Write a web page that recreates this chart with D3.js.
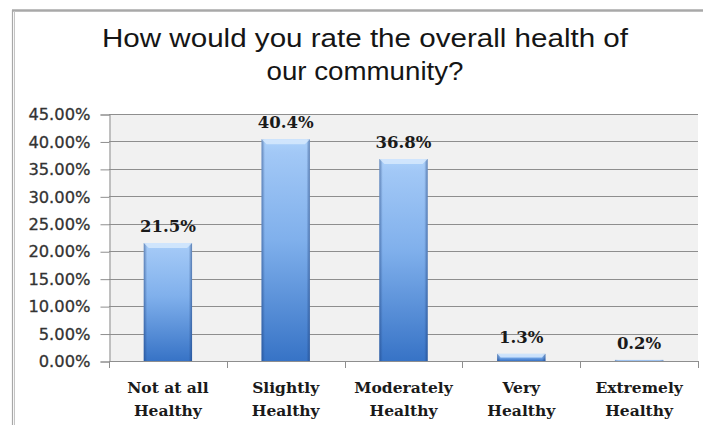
<!DOCTYPE html>
<html>
<head>
<meta charset="utf-8">
<script src="https://cdn.jsdelivr.net/npm/d3@7"></script>
<style>
  body { margin: 0; background: #ffffff; }
  svg { display: block; }
</style>
</head>
<body>
<svg id="chart"></svg>
<script>
// chart data
const categories = ["Not at all Healthy", "Slightly Healthy", "Moderately Healthy", "Very Healthy", "Extremely Healthy"];
const category_lines = [["Not at all", "Healthy"], ["Slightly", "Healthy"], ["Moderately", "Healthy"], ["Very", "Healthy"], ["Extremely", "Healthy"]];
const values = [21.5, 40.4, 36.8, 1.3, 0.2];
const y_ticks = [0, 5, 10, 15, 20, 25, 30, 35, 40, 45];
const title_lines = ["How would you rate the overall health of", "our community?"];

const WIDTH = 703, HEIGHT = 425;
const PLOT = {left: 109, right: 698, top: 114, bottom: 361};

const svg = d3.select("#chart").attr("width", WIDTH).attr("height", HEIGHT);
const defs = svg.append("defs");

const vgrad = defs.append("linearGradient")
  .attr("id", "bar-fill").attr("x1", 0).attr("y1", 0).attr("x2", 0).attr("y2", 1);
[["0%", "#add2fb"], ["6%", "#a2c8f6"], ["45%", "#80b0ec"], ["100%", "#3773c6"]].forEach(s => {
  vgrad.append("stop").attr("offset", s[0]).attr("stop-color", s[1]);
});
const hgrad = defs.append("linearGradient")
  .attr("id", "bar-edge").attr("x1", 0).attr("y1", 0).attr("x2", 1).attr("y2", 0);
[["0%", "#1d3f7a", 0.5], ["7%", "#1d3f7a", 0.0], ["93%", "#1d3f7a", 0.0], ["100%", "#1d3f7a", 0.55]].forEach(s => {
  hgrad.append("stop").attr("offset", s[0]).attr("stop-color", s[1]).attr("stop-opacity", s[2]);
});

// frame of the chart object
svg.append("line").attr("x1", 12).attr("x2", WIDTH).attr("y1", 10.5).attr("y2", 10.5)
  .attr("stroke", "#a8a8a8").attr("stroke-width", 2.5);
svg.append("line").attr("x1", 12.5).attr("x2", 12.5).attr("y1", 10).attr("y2", HEIGHT)
  .attr("stroke", "#a8a8a8").attr("stroke-width", 1.2);
svg.append("line").attr("x1", 14.5).attr("x2", 14.5).attr("y1", 11).attr("y2", HEIGHT)
  .attr("stroke", "#c4c4c4").attr("stroke-width", 1);

// title
const title = svg.append("g").attr("class", "title");
title.selectAll("text")
  .data(title_lines)
  .enter().append("text")
    .attr("x", 365)
    .attr("y", (d, i) => 47 + i * 33)
    .attr("text-anchor", "middle")
    .attr("font-family", "'Liberation Sans', Arial, sans-serif")
    .attr("font-size", 25)
    .attr("fill", "#151515")
    .attr("textLength", (d, i) => i === 0 ? 526 : 197)
    .attr("lengthAdjust", "spacingAndGlyphs")
    .text(d => d);

const x = d3.scaleBand()
  .domain(categories)
  .range([PLOT.left, PLOT.right])
  .paddingInner(0.59)
  .paddingOuter(0.295);

const y = d3.scaleLinear()
  .domain([0, 45])
  .range([PLOT.bottom, PLOT.top]);

// plot area
svg.append("rect")
  .attr("x", PLOT.left).attr("y", PLOT.top)
  .attr("width", PLOT.right - PLOT.left).attr("height", PLOT.bottom - PLOT.top)
  .attr("fill", "#f1f1f1");

svg.append("g").attr("class", "grid")
  .selectAll("line")
  .data(y_ticks.filter(t => t > 0))
  .enter().append("line")
    .attr("x1", PLOT.left).attr("x2", PLOT.right)
    .attr("y1", d => Math.round(y(d)) + 0.5).attr("y2", d => Math.round(y(d)) + 0.5)
    .attr("stroke", "#8e8e8e").attr("stroke-width", 1);

const y_axis = svg.append("g")
  .attr("transform", "translate(" + (PLOT.left + 0.5) + ",0.5)")
  .call(d3.axisLeft(y).tickValues(y_ticks).tickSize(9).tickPadding(10)
    .tickFormat(d => d.toFixed(2) + "%"));
y_axis.select(".domain").attr("stroke", "#8e8e8e");
y_axis.selectAll(".tick line").attr("stroke", "#8e8e8e");
y_axis.selectAll(".tick text")
  .attr("font-family", "'DejaVu Sans', Verdana, sans-serif")
  .attr("font-size", 16.3)
  .attr("fill", "#333333")
  .attr("stroke", "#333333")
  .attr("stroke-width", 0.3);

// category axis
const step = x.step();
const x0 = x(categories[0]) - step * x.paddingOuter();
const x_axis = svg.append("g").attr("class", "x-axis");
x_axis.append("line")
  .attr("x1", PLOT.left).attr("x2", PLOT.right)
  .attr("y1", PLOT.bottom + 0.5).attr("y2", PLOT.bottom + 0.5)
  .attr("stroke", "#8e8e8e");
x_axis.selectAll("line.tick")
  .data(d3.range(categories.length + 1))
  .enter().append("line")
    .attr("class", "tick")
    .attr("x1", i => Math.round(x0 + i * step) + 0.5)
    .attr("x2", i => Math.round(x0 + i * step) + 0.5)
    .attr("y1", PLOT.bottom).attr("y2", PLOT.bottom + 7)
    .attr("stroke", "#8e8e8e");

const cat_text = x_axis.selectAll("text")
  .data(categories)
  .enter().append("text")
    .attr("x", (d, i) => x(d) + x.bandwidth() / 2)
    .attr("y", 393)
    .attr("text-anchor", "middle")
    .attr("font-family", "'DejaVu Serif', Cambria, serif")
    .attr("font-weight", "bold")
    .attr("font-size", 15.5)
    .attr("fill", "#1a1a1a");
cat_text.each(function(d, i){
  const node = d3.select(this);
  category_lines[i].forEach((line, j) => {
    node.append("tspan")
      .attr("x", x(d) + x.bandwidth() / 2)
      .attr("dy", j === 0 ? 0 : 23)
      .text(line);
  });
});

// bars
const bar = svg.append("g").attr("class", "bars")
  .selectAll("g")
  .data(values)
  .enter().append("g");

bar.append("rect")
  .attr("x", (d, i) => x(categories[i]))
  .attr("y", d => y(d))
  .attr("width", x.bandwidth())
  .attr("height", d => y(0) - y(d))
  .attr("fill", "url(#bar-fill)");
bar.append("rect")
  .attr("x", (d, i) => x(categories[i]))
  .attr("y", d => y(d))
  .attr("width", x.bandwidth())
  .attr("height", d => y(0) - y(d))
  .attr("fill", "url(#bar-edge)");
// light bevel on the top of each bar
bar.append("path")
  .attr("d", (d, i) => {
    const bx = x(categories[i]), bw = x.bandwidth(), by = y(d);
    const h = Math.min(5, (y(0) - by) / 2);
    return "M" + bx + "," + by + "H" + (bx + bw) + "L" + (bx + bw - h) + "," + (by + h)
      + "H" + (bx + h) + "Z";
  })
  .attr("fill", "#d6e9fd").attr("opacity", 0.85);

bar.append("text")
  .attr("x", (d, i) => x(categories[i]) + x.bandwidth() / 2)
  .attr("y", d => y(d) - 11)
  .attr("text-anchor", "middle")
  .attr("font-family", "'DejaVu Serif', Cambria, serif")
  .attr("font-weight", "bold")
  .attr("font-size", 16.5)
  .attr("fill", "#1a1a1a")
  .text(d => d.toFixed(1) + "%");
</script>
</body>
</html>
